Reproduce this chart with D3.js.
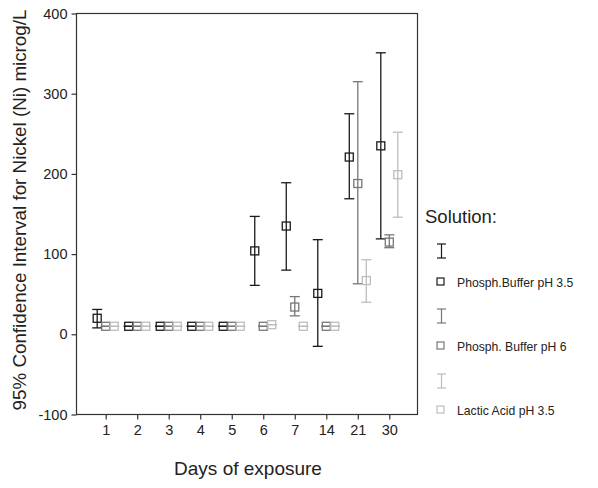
<!DOCTYPE html>
<html>
<head>
<meta charset="utf-8">
<script src="https://cdn.jsdelivr.net/npm/d3@7"></script>
<style>
  body { margin: 0; background: #fff; }
  text { font-family: "Liberation Sans", Arial, sans-serif; fill: #222; }
</style>
</head>
<body>
<div id="chart"></div>
<script>
const days = ["1", "2", "3", "4", "5", "6", "7", "14", "21", "30"];
const seriesNames = ["Phosph.Buffer pH 3.5", "Phosph. Buffer pH 6", "Lactic Acid pH 3.5"];
const pb35Mean = [20, 10, 10, 10, 10, 104, 135, 51, 221, 235];
const pb35Low = [8, 10, 10, 10, 10, 61, 80, -15, 169, 119];
const pb35High = [31, 10, 10, 10, 10, 147, 189, 118, 275, 351];
const pb6Mean = [10, 10, 10, 10, 10, 10, 34, 10, 188, 115];
const pb6Low = [10, 10, 10, 10, 10, 10, 23, 10, 63, 108];
const pb6High = [10, 10, 10, 10, 10, 10, 47, 10, 315, 124];
const laMean = [10, 10, 10, 10, 10, 12, 10, 10, 67, 199];
const laLow = [10, 10, 10, 10, 10, 12, 10, 10, 40, 146];
const laHigh = [10, 10, 10, 10, 10, 12, 10, 10, 93, 252];
const yTicks = [-100, 0, 100, 200, 300, 400];

const colors = ["#1a1a1a", "#777777", "#bdbdbd"];
const width = 598, height = 488;
const frame = {left: 76.5, right: 417.5, top: 13.5, bottom: 414.5};

const svg = d3.select("#chart").append("svg")
    .attr("width", width)
    .attr("height", height);

const x = d3.scalePoint().domain(days).range([105.7, 389.3]);
const offset = d3.scalePoint().domain(seriesNames).range([-8.5, 8.5]);
const y = d3.scaleLinear().domain([-100, 400]).range([frame.bottom, frame.top]);

// frame
svg.append("rect")
    .attr("x", frame.left).attr("y", frame.top)
    .attr("width", frame.right - frame.left)
    .attr("height", frame.bottom - frame.top)
    .attr("fill", "none").attr("stroke", "#333").attr("stroke-width", 1.2);

// axes
const yAxis = svg.append("g")
    .attr("transform", `translate(${frame.left},0)`)
    .call(d3.axisLeft(y).tickValues(yTicks).tickFormat(d => String(d)).tickSize(5).tickPadding(4));
const xAxis = svg.append("g")
    .attr("transform", `translate(0,${frame.bottom})`)
    .call(d3.axisBottom(x).tickSize(5).tickPadding(5));
[yAxis, xAxis].forEach(g => {
    g.select(".domain").remove();
    g.selectAll("line").attr("stroke", "#333").attr("stroke-width", 1.2);
    g.selectAll("text").style("font-size", "14.5px")
        .style("font-family", "'Liberation Sans', Arial, sans-serif").attr("fill", "#222");
});

// axis titles
svg.append("text")
    .attr("x", 248).attr("y", 475)
    .attr("text-anchor", "middle")
    .style("font-size", "19px")
    .text("Days of exposure");
svg.append("text")
    .attr("transform", "translate(26,210) rotate(-90)")
    .attr("text-anchor", "middle")
    .style("font-size", "18.8px")
    .text("95% Confidence Interval for Nickel (Ni) microg/L");

// data
const series = [
    {name: seriesNames[0], mean: pb35Mean, low: pb35Low, high: pb35High},
    {name: seriesNames[1], mean: pb6Mean, low: pb6Low, high: pb6High},
    {name: seriesNames[2], mean: laMean, low: laLow, high: laHigh}
];

const capW = 5, sq = 8;
series.forEach((s, si) => {
    const rows = days.map((d, i) => ({day: d, mean: s.mean[i], low: s.low[i], high: s.high[i]}));
    const g = svg.append("g").attr("stroke", colors[si]).attr("fill", "none").attr("stroke-width", 1.3);
    const cx = d => x(d.day) + offset(s.name);
    g.selectAll(".whisker").data(rows).join("line")
        .attr("x1", cx).attr("x2", cx)
        .attr("y1", d => y(d.low)).attr("y2", d => y(d.high));
    g.selectAll(".capHi").data(rows).join("line")
        .attr("x1", d => cx(d) - capW).attr("x2", d => cx(d) + capW)
        .attr("y1", d => y(d.high)).attr("y2", d => y(d.high));
    g.selectAll(".capLo").data(rows).join("line")
        .attr("x1", d => cx(d) - capW).attr("x2", d => cx(d) + capW)
        .attr("y1", d => y(d.low)).attr("y2", d => y(d.low));
    g.selectAll("rect").data(rows).join("rect")
        .attr("x", d => cx(d) - sq / 2).attr("y", d => y(d.mean) - sq / 2)
        .attr("width", sq).attr("height", sq);
});

// legend
const legend = svg.append("g");
legend.append("text")
    .attr("x", 425).attr("y", 223)
    .style("font-size", "18.5px")
    .text("Solution:");
seriesNames.forEach((name, i) => {
    const iy = 251 + i * 65;
    const ty = 282 + i * 64;
    const lg = legend.append("g").attr("stroke", colors[i]).attr("fill", "none").attr("stroke-width", 1.2);
    lg.append("line").attr("x1", 441.5).attr("x2", 441.5).attr("y1", iy - 7).attr("y2", iy + 7);
    lg.append("line").attr("x1", 437).attr("x2", 446).attr("y1", iy - 7).attr("y2", iy - 7);
    lg.append("line").attr("x1", 437).attr("x2", 446).attr("y1", iy + 7).attr("y2", iy + 7);
    lg.append("rect").attr("x", 437).attr("y", ty - 4).attr("width", 7).attr("height", 7);
    legend.append("text")
        .attr("x", 457).attr("y", ty + 4.5)
        .style("font-size", "12.2px")
        .text(name);
});
</script>
</body>
</html>
